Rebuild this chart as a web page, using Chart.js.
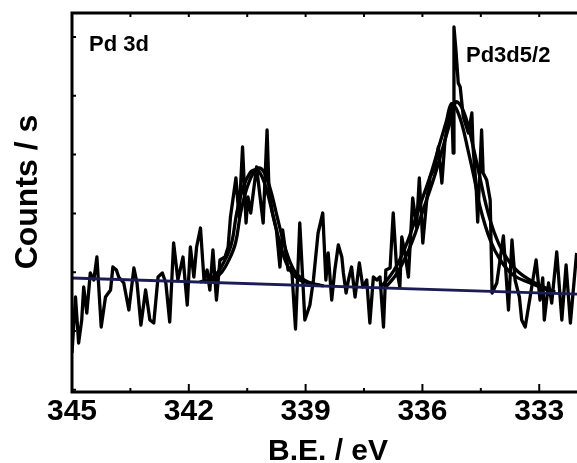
<!DOCTYPE html>
<html>
<head>
<meta charset="utf-8">
<title>Pd 3d</title>
<script src="https://cdn.jsdelivr.net/npm/chart.js@4/dist/chart.umd.min.js"></script>
<style>
  html, body { margin: 0; padding: 0; background: #fff; }
  #wrap { width: 577px; height: 463px; }
</style>
</head>
<body>
<div id="wrap"><canvas id="xps-chart" width="577" height="463"></canvas></div>
<script>
// raw Pd 3d spectrum (binding energy in eV, counts)
const rawBE = [345.00,344.91,344.83,344.75,344.70,344.62,344.53,344.44,344.36,344.25,344.14,344.01,343.95,343.86,343.80,343.67,343.54,343.41,343.33,343.23,343.11,343.00,
  342.90,342.79,342.68,342.59,342.49,342.39,342.28,342.15,342.04,341.96,341.87,341.80,341.70,341.61,341.53,341.46,341.38,341.29,341.20,341.07,340.99,340.93,
  340.79,340.71,340.62,340.53,340.48,340.41,340.26,340.09,339.99,339.94,339.85,339.75,339.66,339.59,339.53,339.45,339.36,339.26,339.15,339.02,338.89,338.80,
  338.68,338.56,338.48,338.42,338.33,338.25,338.16,338.07,338.03,337.96,337.90,337.82,337.73,337.62,337.53,337.43,337.35,337.26,337.17,337.09,337.00,336.94,
  336.83,336.75,336.66,336.58,336.53,336.45,336.36,336.25,336.15,336.08,335.99,335.89,335.80,335.68,335.59,335.50,335.42,335.33,335.25,335.21,335.19,335.14,
  335.08,335.03,334.95,334.82,334.73,334.70,334.62,334.58,334.48,334.44,334.35,334.26,334.21,334.09,333.92,333.79,333.70,333.62,333.51,333.45,333.36,333.23,
  333.08,332.98,332.91,332.87,332.76,332.68,332.55,332.42,332.31,332.20,332.04];
const rawCounts = [470,1030,570,800,1130,870,1270,1200,1430,730,1030,1100,1330,1300,1230,1170,900,1320,1170,750,1100,800,
  770,1230,1270,1170,780,1570,1200,1430,950,1530,1230,1530,1720,1200,1300,1100,1500,1000,1400,1430,1530,1830,
  2220,1830,2530,1770,2030,1870,2330,1770,2700,2100,1870,1700,1330,1700,1530,1300,1330,710,1770,800,950,1200,
  1670,1870,1200,1470,1000,1300,1550,1430,1270,1070,1200,1330,1030,1370,1130,1200,770,1230,1200,1230,730,1300,
  1320,1870,1300,1130,1630,1470,1230,2020,1730,2220,1570,2000,2230,2330,2530,2170,2600,2800,2960,2470,3730,3500,
  3170,3130,2830,2670,2870,2530,2130,1780,2700,2270,2200,2000,1070,1170,1640,900,1600,1200,1030,800,730,1040,
  1400,1000,1220,800,1170,970,1480,800,1350,770,1470];

// fitted curves, peak 1 (Pd 3d3/2)
const fit1aBE = [341.72,341.46,341.25,341.07,340.90,340.77,340.60,340.43,340.30,340.17,340.00,339.83,339.66,339.51,339.35,339.15,338.89,338.63];
const fit1aCounts = [1180,1210,1280,1400,1570,1870,2130,2270,2300,2270,2100,1830,1570,1380,1270,1200,1170,1150];
const fit1bBE = [341.61,341.36,341.15,340.97,340.80,340.67,340.50,340.33,340.20,340.07,339.90,339.73,339.56,339.40,339.25,339.04,338.79,338.53];
const fit1bCounts = [1180,1210,1280,1400,1570,1870,2130,2280,2320,2280,2100,1830,1570,1380,1270,1200,1160,1140];

// fitted curves, peak 2 (Pd 3d5/2)
const fit2aBE = [337.09,336.83,336.65,336.45,336.32,336.06,335.80,335.55,335.39,335.26,335.14,334.98,334.83,334.67,334.52,334.26,334.00,333.67,333.23,332.72];
const fit2aCounts = [1120,1240,1350,1520,1650,1950,2240,2570,2780,2960,2920,2750,2500,2220,1930,1600,1400,1250,1170,1090];
const fit2bBE = [336.96,336.70,336.52,336.32,336.19,335.93,335.68,335.42,335.26,335.14,335.01,334.85,334.70,334.52,334.36,334.16,333.93,333.59,333.11,332.59];
const fit2bCounts = [1120,1240,1360,1530,1660,1960,2250,2600,2820,2980,2940,2780,2540,2220,1940,1680,1480,1300,1170,1080];

// linear background
const baseBE = [345.00, 332.03];
const baseCounts = [1220, 1058];

// axes
const xMajor = [345, 342, 339, 336, 333];
const xMinor = [343.5, 340.5, 337.5, 334.5];
const yTicks = [102, 690, 1278, 1866, 2454, 3042, 3630];

function pts(xs, ys) {
    return xs.map((v, i) => ({ x: v, y: ys[i] }));
}

const FONT = '"Liberation Sans", Arial, sans-serif';

// frame, inward ticks and all the text
const framePlugin = {
    id: 'frame',
    afterDatasetsDraw(chart) {
        const ctx = chart.ctx;
        const a = chart.chartArea;
        const xs = chart.scales.x;
        const ys = chart.scales.y;
        ctx.save();
        ctx.strokeStyle = '#000';
        ctx.lineCap = 'butt';

        ctx.lineWidth = 2;
        ctx.beginPath();
        xMajor.forEach(v => {
            const px = xs.getPixelForValue(v);
            ctx.moveTo(px, a.bottom); ctx.lineTo(px, a.bottom - 8);
            ctx.moveTo(px, a.top); ctx.lineTo(px, a.top + 4);
        });
        xMinor.forEach(v => {
            const px = xs.getPixelForValue(v);
            ctx.moveTo(px, a.bottom); ctx.lineTo(px, a.bottom - 4);
            ctx.moveTo(px, a.top); ctx.lineTo(px, a.top + 4);
        });
        yTicks.forEach(v => {
            const py = ys.getPixelForValue(v);
            ctx.moveTo(a.left, py); ctx.lineTo(a.left + 4, py);
        });
        ctx.stroke();

        ctx.lineWidth = 3;
        ctx.beginPath();
        ctx.moveTo(a.left - 1.5, a.top); ctx.lineTo(a.right, a.top);
        ctx.moveTo(a.left, a.top); ctx.lineTo(a.left, a.bottom);
        ctx.moveTo(a.left - 1.5, a.bottom); ctx.lineTo(a.right, a.bottom);
        ctx.stroke();

        ctx.fillStyle = '#000';
        ctx.textAlign = 'center';
        ctx.textBaseline = 'middle';
        ctx.font = 'bold 30px ' + FONT;
        xMajor.forEach(v => {
            ctx.fillText(String(v), xs.getPixelForValue(v), 412);
        });
        ctx.fillText('B.E. / eV', 328, 452);

        ctx.save();
        ctx.translate(28, 192);
        ctx.rotate(-Math.PI / 2);
        ctx.font = 'bold 32px ' + FONT;
        ctx.fillText('Counts / s', 0, 0);
        ctx.restore();

        ctx.textAlign = 'left';
        ctx.textBaseline = 'alphabetic';
        ctx.font = 'bold 22px ' + FONT;
        ctx.fillText('Pd 3d', 89, 51);
        ctx.fillText('Pd3d5/2', 466, 62);
        ctx.restore();
    }
};

const lineStyle = { borderColor: '#000', borderWidth: 3.3, borderJoinStyle: 'round', pointRadius: 0, fill: false };

new Chart(document.getElementById('xps-chart'), {
    type: 'line',
    data: {
        datasets: [
            { label: 'Background', data: pts(baseBE, baseCounts), borderColor: '#1c1c55', borderWidth: 2.8, pointRadius: 0, fill: false },
            Object.assign({ label: 'Raw', data: pts(rawBE, rawCounts), tension: 0 }, lineStyle),
            Object.assign({ label: 'Fit 1a', data: pts(fit1aBE, fit1aCounts), tension: 0.4 }, lineStyle),
            Object.assign({ label: 'Fit 1b', data: pts(fit1bBE, fit1bCounts), tension: 0.4 }, lineStyle),
            Object.assign({ label: 'Fit 2a', data: pts(fit2aBE, fit2aCounts), tension: 0.4 }, lineStyle),
            Object.assign({ label: 'Fit 2b', data: pts(fit2bBE, fit2bCounts), tension: 0.4 }, lineStyle)
        ]
    },
    options: {
        responsive: false,
        animation: false,
        layout: { padding: { left: 72, right: 0, top: 13, bottom: 71 } },
        plugins: { legend: { display: false }, tooltip: { enabled: false } },
        scales: {
            x: { type: 'linear', display: false, reverse: true, min: 332.03, max: 345 },
            y: { type: 'linear', display: false, min: 80, max: 3870 }
        }
    },
    plugins: [framePlugin]
});
</script>
</body>
</html>
